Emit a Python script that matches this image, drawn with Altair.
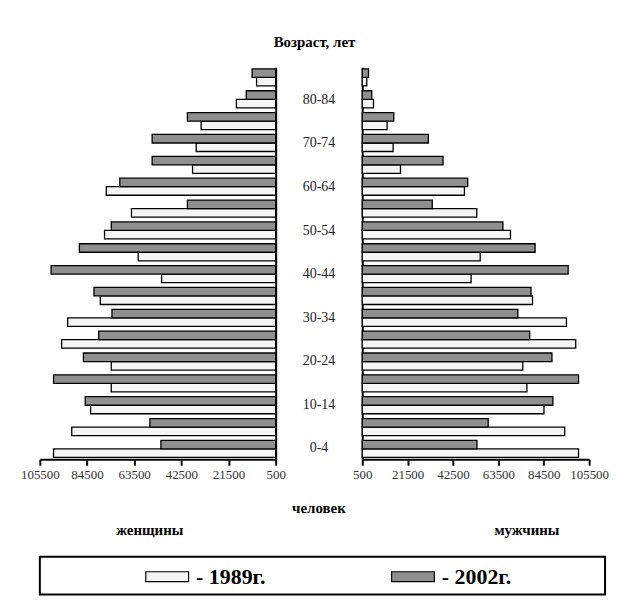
import altair as alt
import pandas as pd

# Age groups, bottom to top
ages = ['0-4', '5-9', '10-14', '15-19', '20-24', '25-29', '30-34', '35-39', '40-44',
        '45-49', '50-54', '55-59', '60-64', '65-69', '70-74', '75-79', '80-84', '85+']

women_1989 = [99400, 91300, 82900, 73700, 73700, 95800, 93100, 78600, 51300,
              61700, 76700, 64700, 75900, 37500, 35900, 33700, 18000, 9000]
women_2002 = [51600, 56500, 85300, 99400, 86100, 79300, 73400, 81400, 100500,
              87900, 73700, 39800, 69900, 55500, 55500, 39800, 13600, 11000]
men_1989 = [100600, 94200, 84600, 76700, 74800, 99300, 95000, 79300, 50900,
            55100, 69100, 53500, 47800, 18200, 14800, 12000, 5700, 2600]
men_2002 = [53600, 58800, 88700, 100600, 88300, 78000, 72500, 78600, 95800,
            80500, 65600, 32900, 49300, 37900, 31100, 15100, 4900, 3400]

years = ['1989', '2002']
legend_labels = ['- 1989г.', '- 2002г.']
tick_values = [500, 21500, 42500, 63500, 84500, 105500]
shown_labels = ['0-4', '10-14', '20-24', '30-34', '40-44', '50-54', '60-64', '70-74', '80-84']

FONT = 'Liberation Serif'
order = ages[::-1]

rows = []
for i, a in enumerate(ages):
    rows.append(dict(age=a, sex='w', year='1989', value=women_1989[i]))
    rows.append(dict(age=a, sex='w', year='2002', value=women_2002[i]))
    rows.append(dict(age=a, sex='m', year='1989', value=men_1989[i]))
    rows.append(dict(age=a, sex='m', year='2002', value=men_2002[i]))
df = pd.DataFrame(rows)

fill_scale = alt.Scale(domain=years, range=['#f5f5f5', '#8f8f8f'])
y_scale = alt.Scale(domain=order, paddingInner=0.22, paddingOuter=0.08)
H = 394


def side(sex, reverse, orient_y, title, title_x, width):
    return alt.Chart(df[df.sex == sex]).mark_bar(stroke='black', strokeWidth=1.3).encode(
        y=alt.Y('age:N', scale=y_scale,
                axis=alt.Axis(orient=orient_y, labels=False, ticks=False, domain=True,
                              domainColor='black', domainWidth=2, title=None,
                              grid=False)),
        yOffset=alt.YOffset('year:N', sort=['2002', '1989']),
        x=alt.X('value:Q',
                scale=alt.Scale(domain=[500, 105500], reverse=reverse, nice=False, zero=False),
                axis=alt.Axis(values=tick_values, format='d', grid=False, domainColor='black',
                              domainWidth=2, tickColor='black', tickWidth=2, tickSize=6,
                              labelFont=FONT, labelFontSize=13, labelColor='#333',
                              labelPadding=3, labelFlush=False,
                              title=title, titleFont=FONT, titleFontSize=15,
                              titleFontWeight='bold', titleColor='black',
                              titleX=title_x, titleY=64, titleAnchor='middle')),
        x2=alt.datum(500),
        fill=alt.Fill('year:N', scale=fill_scale, legend=None),
    ).properties(width=width, height=H)


left = side('w', True, 'right', 'женщины', 110, 237)
right = side('m', False, 'left', 'мужчины', 165, 228)

lab_df = pd.DataFrame({'age': shown_labels})
center = alt.Chart(lab_df).mark_text(font=FONT, fontSize=14, color='#222').encode(
    y=alt.Y('age:N', scale=y_scale, axis=None),
    text='age:N',
).properties(width=87, height=H,
             title=alt.TitleParams('человек', orient='bottom', offset=42, font=FONT,
                                   fontSize=15, fontWeight='bold', color='black'))

top = alt.hconcat(left, center, right, spacing=0, bounds='flush')

leg_df = pd.DataFrame({'year': years, 'label': legend_labels})
leg_base = alt.Chart(leg_df).encode(
    x=alt.X('year:N', scale=alt.Scale(type='point', domain=years, range=[128, 375], padding=0),
            axis=None),
    y=alt.value(20),
)
leg_sym = leg_base.mark_point(shape='M-1,-0.23H1V0.23H-1Z', size=1849, filled=True,
                              stroke='black', strokeWidth=1.2, opacity=1).encode(
    fill=alt.Fill('year:N', scale=fill_scale, legend=None))
leg_txt = leg_base.mark_text(align='left', dx=29, font=FONT, fontSize=22,
                             fontWeight='bold', color='black').encode(text='label:N')
legend = alt.layer(leg_sym, leg_txt).properties(
    width=568, height=38, view=alt.ViewBackground(stroke='black', strokeWidth=2))

chart = alt.vconcat(top, legend, spacing=18).properties(
    title=alt.TitleParams('Возраст, лет', font=FONT, fontSize=15, fontWeight='bold',
                          color='black', anchor='middle', offset=17),
    padding={'left': 12, 'top': 26, 'right': 5, 'bottom': 0},
    background='white',
).configure_view(stroke=None)

chart.save('out.html', embed_options={'renderer': 'svg', 'actions': False})
